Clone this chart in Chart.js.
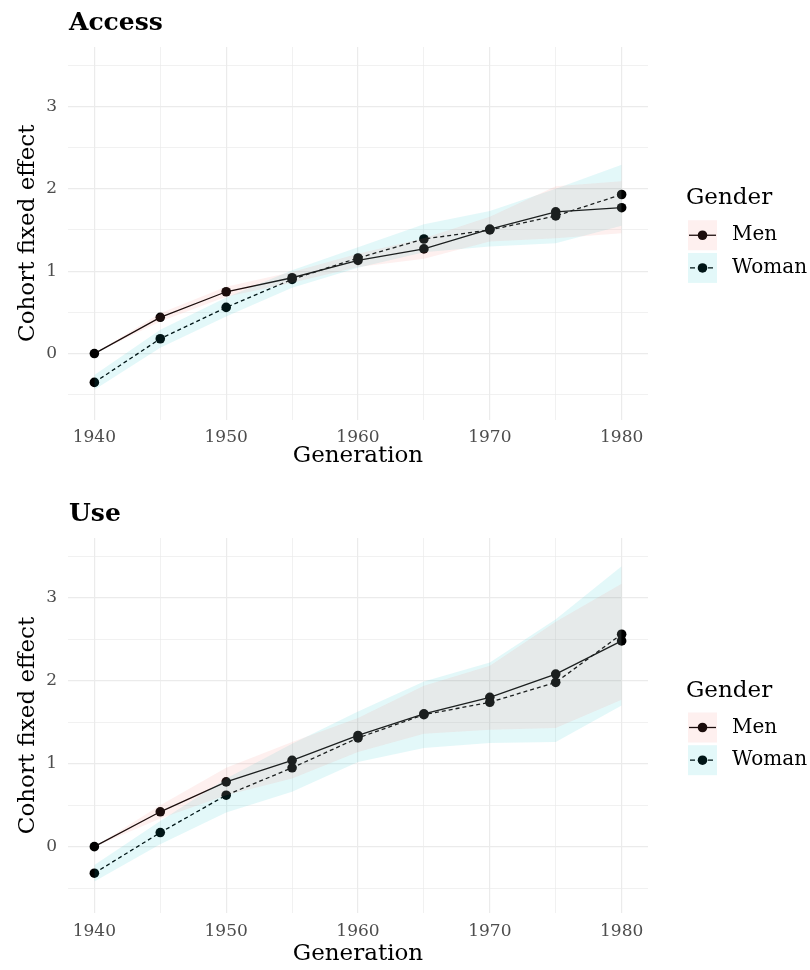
<!DOCTYPE html>
<html>
<head>
<meta charset="utf-8">
<script src="https://cdn.jsdelivr.net/npm/chart.js@4.4.1/dist/chart.umd.min.js"></script>
<style>
  html, body { margin: 0; padding: 0; background: #fff; }
  #page { position: relative; width: 810px; height: 970px; overflow: hidden; }
  canvas { position: absolute; left: 0; }
  #accessChart { top: 0; }
  #useChart { top: 492px; }
</style>
</head>
<body>
<div id="page">
  <canvas id="accessChart" width="810" height="485"></canvas>
  <canvas id="useChart" width="810" height="478"></canvas>
</div>
<script>
const GENERATIONS = [1940, 1945, 1950, 1955, 1960, 1965, 1970, 1975, 1980];
const GENDERS = ['Men', 'Woman'];
const X_TICK_LABELS = [1940, 1950, 1960, 1970, 1980];
const Y_TICK_LABELS = [0, 1, 2, 3];

// Access panel: estimate and ribbon bounds
const ACCESS_MEN = [0, 0.44, 0.75, 0.92, 1.13, 1.27, 1.51, 1.72, 1.77];
const ACCESS_MEN_LOW = [0, 0.39, 0.69, 0.86, 1.05, 1.15, 1.36, 1.40, 1.46];
const ACCESS_MEN_HIGH = [0, 0.49, 0.81, 0.99, 1.21, 1.40, 1.66, 2.03, 2.09];
const ACCESS_WOMAN = [-0.35, 0.18, 0.56, 0.90, 1.16, 1.39, 1.50, 1.67, 1.93];
const ACCESS_WOMAN_LOW = [-0.44, 0.07, 0.45, 0.80, 1.04, 1.23, 1.30, 1.34, 1.55];
const ACCESS_WOMAN_HIGH = [-0.26, 0.29, 0.68, 1.01, 1.29, 1.57, 1.73, 2.00, 2.29];

// Use panel
const USE_MEN = [0, 0.42, 0.78, 1.04, 1.34, 1.60, 1.80, 2.08, 2.48];
const USE_MEN_LOW = [0, 0.34, 0.62, 0.82, 1.14, 1.36, 1.41, 1.43, 1.77];
const USE_MEN_HIGH = [0, 0.50, 0.95, 1.26, 1.55, 1.94, 2.18, 2.71, 3.17];
const USE_WOMAN = [-0.32, 0.17, 0.62, 0.95, 1.31, 1.59, 1.74, 1.98, 2.56];
const USE_WOMAN_LOW = [-0.42, 0.03, 0.41, 0.66, 1.02, 1.19, 1.25, 1.26, 1.70];
const USE_WOMAN_HIGH = [-0.22, 0.31, 0.82, 1.24, 1.63, 1.99, 2.22, 2.74, 3.38];

const FONT = "'DejaVu Serif', serif";
const MEN_FILL = 'rgba(248, 118, 109, 0.11)';
const WOMAN_FILL = 'rgba(0, 191, 196, 0.11)';
const GRID = '#ebebeb';
const TICK = '#4d4d4d';

Chart.defaults.font.family = FONT;

function points(values) {
  return GENERATIONS.map((year, i) => ({ x: year, y: values[i] }));
}

function ribbon(low, high, fillColor) {
  return [
    { data: points(low), borderWidth: 0, borderColor: 'rgba(0,0,0,0)', pointRadius: 0, fill: false },
    { data: points(high), borderWidth: 0, borderColor: 'rgba(0,0,0,0)', pointRadius: 0, fill: '-1', backgroundColor: fillColor }
  ];
}

function line(values, dash) {
  return {
    data: points(values),
    borderColor: '#000',
    borderWidth: 1.3,
    borderDash: dash,
    pointRadius: 4.8,
    pointBorderWidth: 0,
    pointBackgroundColor: '#000',
    fill: false,
    tension: 0
  };
}

// panel title + legend, drawn next to the plot area
const panelDecor = {
  id: 'panelDecor',
  afterDraw(chart, args, opts) {
    const { ctx, chartArea } = chart;
    const mid = (chartArea.top + chartArea.bottom) / 2;
    ctx.save();
    ctx.fillStyle = '#000';
    ctx.textBaseline = 'alphabetic';
    ctx.font = `bold 25px ${FONT}`;
    ctx.fillText(opts.title, chartArea.left + 1, opts.titleBaseline);

    const keyX = chartArea.right + 40;
    const keyW = 29;
    const keyH = 30;
    ctx.font = `23px ${FONT}`;
    ctx.fillText('Gender', keyX - 2, mid - 29);

    GENDERS.forEach((gender, i) => {
      const top = mid - 13 + i * 32.7;
      const cy = top + keyH / 2;
      ctx.strokeStyle = '#000';
      ctx.lineWidth = 1.3;
      ctx.setLineDash(i === 0 ? [] : [5, 4]);
      ctx.lineDashOffset = i === 0 ? 0 : -1;
      ctx.beginPath();
      ctx.moveTo(keyX + 1, cy);
      ctx.lineTo(keyX + keyW - 1, cy);
      ctx.stroke();
      ctx.setLineDash([]);
      ctx.fillStyle = '#000';
      ctx.beginPath();
      ctx.arc(keyX + keyW / 2, cy, 4.8, 0, Math.PI * 2);
      ctx.fill();
      ctx.fillStyle = i === 0 ? MEN_FILL : WOMAN_FILL;
      ctx.fillRect(keyX, top, keyW, keyH);

      ctx.fillStyle = '#000';
      ctx.font = `20px ${FONT}`;
      ctx.textBaseline = 'middle';
      ctx.fillText(gender, keyX + 44, cy);
      ctx.textBaseline = 'alphabetic';
    });
    ctx.restore();
  }
};

function makePanel(canvasId, p) {
  const datasets = [
    ...ribbon(p.menLow, p.menHigh, MEN_FILL),
    ...ribbon(p.womanLow, p.womanHigh, WOMAN_FILL),
    line(p.men, []),
    line(p.woman, [4, 3])
  ];

  return new Chart(document.getElementById(canvasId), {
    type: 'line',
    data: { datasets },
    plugins: [panelDecor],
    options: {
      responsive: false,
      devicePixelRatio: 1,
      animation: false,
      layout: { padding: { top: p.layoutTop, right: 162, bottom: 0, left: 0 } },
      plugins: {
        legend: { display: false },
        tooltip: { enabled: false },
        panelDecor: { title: p.title, titleBaseline: p.titleBaseline }
      },
      scales: {
        x: {
          type: 'linear',
          min: 1938,
          max: 1982,
          border: { display: false },
          grid: {
            color: GRID,
            drawTicks: false,
            lineWidth: (c) => (X_TICK_LABELS.includes(c.tick.value) ? 1.2 : 0.7)
          },
          ticks: {
            stepSize: 5,
            includeBounds: false,
            autoSkip: false,
            maxRotation: 0,
            padding: p.xTickPad,
            color: TICK,
            font: { size: 17 },
            callback: (v) => (X_TICK_LABELS.includes(v) ? String(v) : '')
          },
          title: {
            display: true,
            text: 'Generation',
            color: '#000',
            font: { size: 23 },
            padding: { top: 0, bottom: p.xTitlePad }
          },
          afterFit: (scale) => { scale.height = p.xAxisHeight; }
        },
        y: {
          type: 'linear',
          min: -0.8,
          max: 3.72,
          border: { display: false },
          grid: {
            color: GRID,
            drawTicks: false,
            lineWidth: (c) => (Y_TICK_LABELS.includes(c.tick.value) ? 1.2 : 0.7)
          },
          ticks: {
            stepSize: 0.5,
            includeBounds: false,
            autoSkip: false,
            padding: 11,
            color: TICK,
            font: { size: 17 },
            callback: (v) => (Y_TICK_LABELS.includes(v) ? String(v) : '')
          },
          title: {
            display: true,
            text: 'Cohort fixed effect',
            color: '#000',
            font: { size: 23 },
            padding: { top: 14, bottom: 0 }
          },
          afterFit: (scale) => { scale.width = 68; }
        }
      }
    }
  });
}

makePanel('accessChart', {
  title: 'Access',
  titleBaseline: 30,
  layoutTop: 47,
  xAxisHeight: 65.5,
  xTickPad: 7.6,
  xTitlePad: 15,
  men: ACCESS_MEN, menLow: ACCESS_MEN_LOW, menHigh: ACCESS_MEN_HIGH,
  woman: ACCESS_WOMAN, womanLow: ACCESS_WOMAN_LOW, womanHigh: ACCESS_WOMAN_HIGH
});

makePanel('useChart', {
  title: 'Use',
  titleBaseline: 28.7,
  layoutTop: 46,
  xAxisHeight: 57,
  xTickPad: 8,
  xTitlePad: 2.5,
  men: USE_MEN, menLow: USE_MEN_LOW, menHigh: USE_MEN_HIGH,
  woman: USE_WOMAN, womanLow: USE_WOMAN_LOW, womanHigh: USE_WOMAN_HIGH
});
</script>
</body>
</html>
